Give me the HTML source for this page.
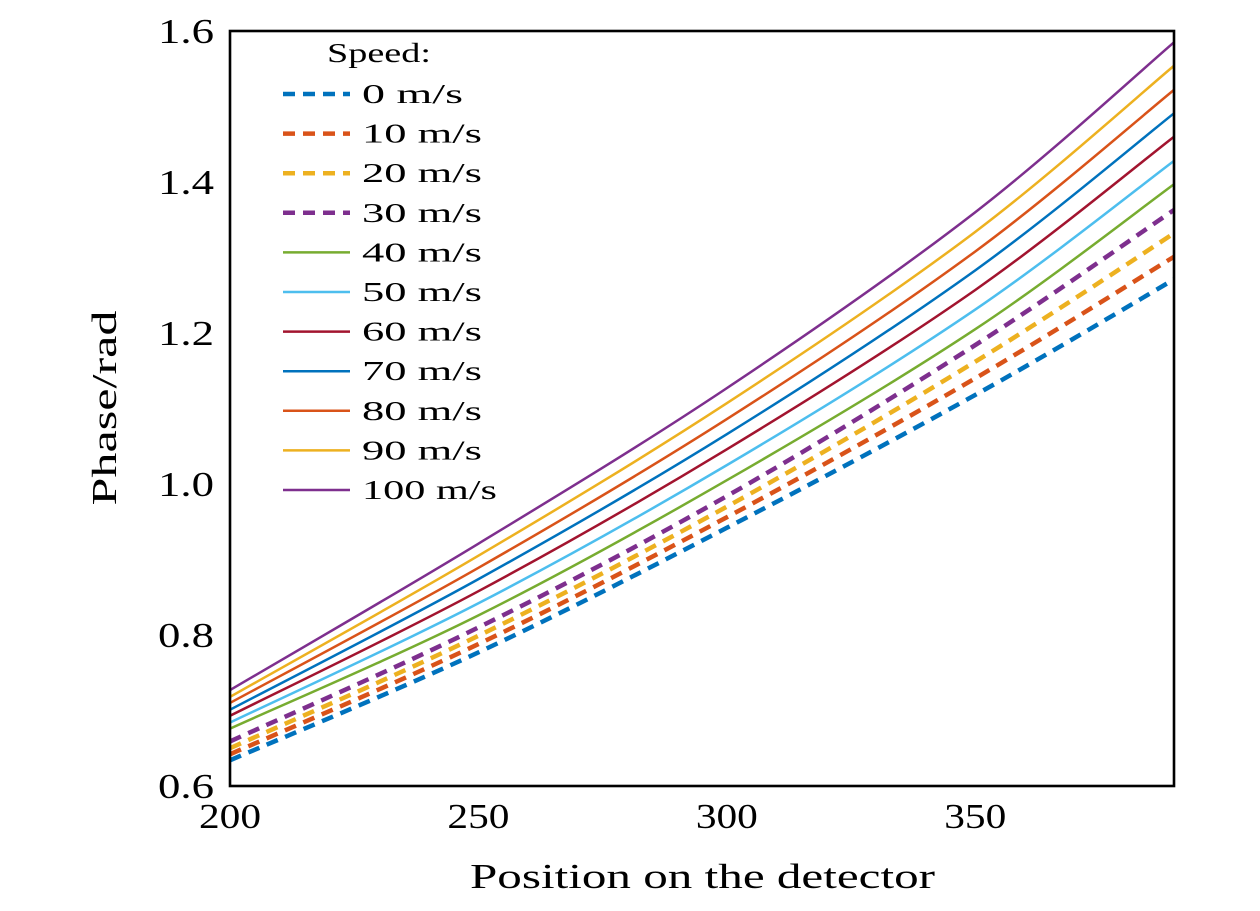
<!DOCTYPE html>
<html><head><meta charset="utf-8"><style>
body{margin:0;background:#fff}
svg text{font-family:"Liberation Serif",serif;fill:#000}
</style></head><body>
<svg id="c" width="1260" height="906"></svg>
<script>
const xs=[200,250,300,350,390];
const speeds=["0 m/s","10 m/s","20 m/s","30 m/s","40 m/s","50 m/s","60 m/s","70 m/s","80 m/s","90 m/s","100 m/s"];
const s0=[0.634,0.777,0.942,1.118,1.271];
const s10=[0.642,0.788,0.956,1.140,1.301];
const s20=[0.650,0.799,0.970,1.162,1.332];
const s30=[0.659,0.810,0.984,1.184,1.363];
const s40=[0.676,0.826,1.005,1.205,1.397];
const s50=[0.684,0.842,1.025,1.231,1.428];
const s60=[0.693,0.858,1.046,1.257,1.460];
const s70=[0.701,0.874,1.066,1.283,1.491];
const s80=[0.710,0.889,1.086,1.308,1.522];
const s90=[0.718,0.905,1.107,1.334,1.554];
const s100=[0.727,0.921,1.127,1.360,1.585];
const series=[s0,s10,s20,s30,s40,s50,s60,s70,s80,s90,s100];
const xTicks=[200,250,300,350];
const yTicks=[0.6,0.8,1.0,1.2,1.4,1.6];
const colors=["#0072BD","#D95319","#EDB120","#7E2F8E","#77AC30","#4DBEEE","#A2142F","#0072BD","#D95319","#EDB120","#7E2F8E"];
const L=230,R=1174,T=31,B=786;
const X=v=>L+(v-200)/(390-200)*(R-L);
const Y=v=>B-(v-0.6)/(1.0)*(B-T);
const svg=document.getElementById('c');
const NS="http://www.w3.org/2000/svg";
function mk(t,a,p){const e=document.createElementNS(NS,t);for(const k in a)e.setAttribute(k,a[k]);(p||svg).appendChild(e);return e;}
const g=mk('g',{});


series.forEach((s,i)=>{
  const pts=xs.map((x,j)=>[X(x),Y(s[j])]);
  let d=`M${pts[0][0]},${pts[0][1]}`;
  for(let j=0;j<pts.length-1;j++){
    const p0=pts[j-1]||pts[j],p1=pts[j],p2=pts[j+1],p3=pts[j+2]||p2;
    const c1=[p1[0]+(p2[0]-p0[0])/6,p1[1]+(p2[1]-p0[1])/6];
    const c2=[p2[0]-(p3[0]-p1[0])/6,p2[1]-(p3[1]-p1[1])/6];
    d+=` C${c1[0]},${c1[1]} ${c2[0]},${c2[1]} ${p2[0]},${p2[1]}`;
  }
  const dashed=i<4;
  const p=mk('path',{d,fill:'none',stroke:colors[i],'stroke-width':dashed?4.5:2.5,'stroke-dasharray':dashed?'12 8':'none'},g);
  
  
});
const fr=mk('rect',{x:L,y:T,width:R-L,height:B-T,fill:'none',stroke:'#000','stroke-width':2.6});


xTicks.forEach(v=>{
  const t=mk('text',{x:X(v),y:828,'text-anchor':'middle','font-size':35,textLength:62,lengthAdjust:'spacingAndGlyphs'});
  t.textContent=v;
  
  
});
yTicks.forEach(v=>{
  const t=mk('text',{x:214,y:Y(v)+12,'text-anchor':'end','font-size':35,textLength:56,lengthAdjust:'spacingAndGlyphs'});
  t.textContent=v.toFixed(1);
  
  
});
const xt=mk('text',{x:470,y:888,'font-size':35,textLength:465,lengthAdjust:'spacingAndGlyphs'});
xt.textContent='Position on the detector';


const yt=mk('text',{x:0,y:0,'text-anchor':'middle','font-size':35,textLength:195,lengthAdjust:'spacingAndGlyphs',transform:'translate(116,408) rotate(-90)'});
yt.textContent='Phase/rad';


const lg=mk('g',{});


const lt=mk('text',{x:327,y:62,'font-size':27,textLength:104,lengthAdjust:'spacingAndGlyphs'},lg);
lt.textContent='Speed:';


const legW=[101,120,120,120,120,120,120,120,120,120,135];
speeds.forEach((s,i)=>{
  const y=94+i*39.6;
  const dashed=i<4;
  const ln=mk('line',{x1:283,x2:350,y1:y,y2:y,stroke:colors[i],'stroke-width':dashed?4.5:2.5,'stroke-dasharray':dashed?'12 8':'none'},lg);
  
  
  const t=mk('text',{x:362,y:y+9,'font-size':27,textLength:legW[i],lengthAdjust:'spacingAndGlyphs'},lg);
  t.textContent=s;
  
  
});
</script>
</body></html>
